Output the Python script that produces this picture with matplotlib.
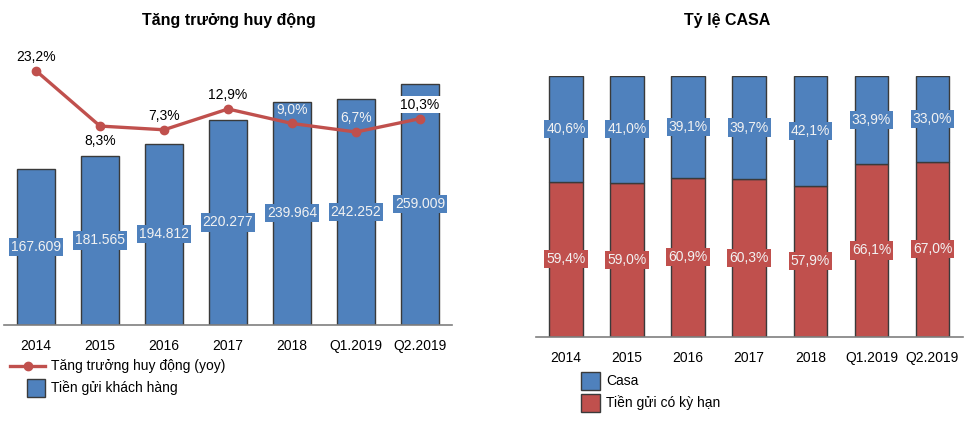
import matplotlib
matplotlib.use("Agg")
import matplotlib.pyplot as plt
from matplotlib.lines import Line2D
from matplotlib.patches import Rectangle

plt.rcParams['font.family'] = ['Liberation Sans', 'DejaVu Sans']

# ---- data ----
categories = ["2014", "2015", "2016", "2017", "2018", "Q1.2019", "Q2.2019"]
deposits = [167.609, 181.565, 194.812, 220.277, 239.964, 242.252, 259.009]
deposit_labels = ["167.609", "181.565", "194.812", "220.277", "239.964", "242.252", "259.009"]
growth = [23.2, 8.3, 7.3, 12.9, 9.0, 6.7, 10.3]
casa = [40.6, 41.0, 39.1, 39.7, 42.1, 33.9, 33.0]
term = [59.4, 59.0, 60.9, 60.3, 57.9, 66.1, 67.0]

title_left = "Tăng trưởng huy động"
title_right = "Tỷ lệ CASA"
legend_line = "Tăng trưởng huy động (yoy)"
legend_bar = "Tiền gửi khách hàng"
legend_casa = "Casa"
legend_term = "Tiền gửi có kỳ hạn"

BLUE = "#4F81BD"
RED = "#C0504D"
EDGE = "#3A3A3A"
LIGHT = "#F2F2F2"

W, H = 967, 424
fig = plt.figure(figsize=(W / 100, H / 100), dpi=100)


def ax_px(x0, y0, x1, y1):
    return fig.add_axes([x0 / W, 1 - y1 / H, (x1 - x0) / W, (y1 - y0) / H])


def fx(x):
    return x / W


def fy(y):
    return 1 - y / H


def pct(v):
    return f"{v:.1f}%".replace(".", ",")


x = list(range(len(categories)))

# ---- left chart ----
axl = ax_px(4, 60, 452, 325)
axl.bar(x, deposits, width=0.58, color=BLUE, edgecolor=EDGE, linewidth=1.0, zorder=2)
axl.set_xlim(-0.5, len(categories) - 0.5)
axl.set_ylim(0, 284.6)
for i, (v, lab) in enumerate(zip(deposits, deposit_labels)):
    axl.text(i, v / 2, lab, ha="center", va="center", fontsize=10, color=LIGHT, zorder=3,
             bbox=dict(boxstyle="square,pad=0.15", fc=BLUE, ec="none"))
axl.set_xticks(x)
axl.set_xticklabels(categories, fontsize=10)
axl.tick_params(axis="x", length=0, pad=10)
axl.set_yticks([])
for s in ["top", "left", "right"]:
    axl.spines[s].set_visible(False)
axl.spines["bottom"].set_color("#7F7F7F")
axl.spines["bottom"].set_linewidth(1.2)

axr2 = axl.twinx()
axr2.plot(x, growth, color=RED, linewidth=2.4, marker="o", markersize=6, zorder=4)
axr2.set_ylim(-45.3, 26.1)
axr2.set_yticks([])
for s in ["top", "left", "right", "bottom"]:
    axr2.spines[s].set_visible(False)
for i, g in enumerate(growth):
    dy = -11 if i == 1 else 10
    if i in (4, 5):
        axr2.annotate(pct(g), (i, g), xytext=(0, dy), textcoords="offset points",
                      ha="center", va="center", fontsize=10, color=LIGHT)
    elif i == 6:
        axr2.annotate(pct(g), (i, g), xytext=(0, dy), textcoords="offset points",
                      ha="center", va="center", fontsize=10, color="black",
                      bbox=dict(boxstyle="square,pad=0.1", fc="white", ec="none"))
    else:
        axr2.annotate(pct(g), (i, g), xytext=(0, dy), textcoords="offset points",
                      ha="center", va="center", fontsize=10, color="black")

fig.text(fx(229), fy(20), title_left, ha="center", va="center", fontsize=11.5, fontweight="bold")

# left legend
fig.add_artist(Line2D([fx(10), fx(45)], [fy(366), fy(366)], color=RED, linewidth=2.4))
fig.add_artist(Line2D([fx(27.5)], [fy(366)], color=RED, marker="o", markersize=6))
fig.text(fx(51), fy(366), legend_line, ha="left", va="center", fontsize=10)
fig.add_artist(Rectangle((fx(27), fy(397)), fx(18), 18 / H, facecolor=BLUE, edgecolor=EDGE,
                         linewidth=1.0, transform=fig.transFigure))
fig.text(fx(51), fy(388), legend_bar, ha="left", va="center", fontsize=10)

# ---- right chart ----
axc = ax_px(535.5, 75.7, 963, 336.7)
axc.bar(x, term, width=0.55, color=RED, edgecolor=EDGE, linewidth=1.0, zorder=2)
axc.bar(x, casa, bottom=term, width=0.55, color=BLUE, edgecolor=EDGE, linewidth=1.0, zorder=2)
axc.set_xlim(-0.5, len(categories) - 0.5)
axc.set_ylim(0, 100)
for i in x:
    axc.text(i, term[i] / 2, pct(term[i]), ha="center", va="center", fontsize=10, color=LIGHT,
             zorder=3, bbox=dict(boxstyle="square,pad=0.15", fc=RED, ec="none"))
    axc.text(i, term[i] + casa[i] / 2, pct(casa[i]), ha="center", va="center", fontsize=10,
             color=LIGHT, zorder=3, bbox=dict(boxstyle="square,pad=0.15", fc=BLUE, ec="none"))
axc.set_xticks(x)
axc.set_xticklabels(categories, fontsize=10)
axc.tick_params(axis="x", length=0, pad=10)
axc.set_yticks([])
for s in ["top", "left", "right"]:
    axc.spines[s].set_visible(False)
axc.spines["bottom"].set_color("#7F7F7F")
axc.spines["bottom"].set_linewidth(1.2)

fig.text(fx(727), fy(20), title_right, ha="center", va="center", fontsize=11.5, fontweight="bold")

# right legend
fig.add_artist(Rectangle((fx(581), fy(390)), fx(19), 18 / H, facecolor=BLUE, edgecolor=EDGE,
                         linewidth=1.0, transform=fig.transFigure))
fig.text(fx(606), fy(381), legend_casa, ha="left", va="center", fontsize=10)
fig.add_artist(Rectangle((fx(581), fy(412)), fx(19), 18 / H, facecolor=RED, edgecolor=EDGE,
                         linewidth=1.0, transform=fig.transFigure))
fig.text(fx(606), fy(403), legend_term, ha="left", va="center", fontsize=10)

fig.savefig("out.png", dpi=100)
